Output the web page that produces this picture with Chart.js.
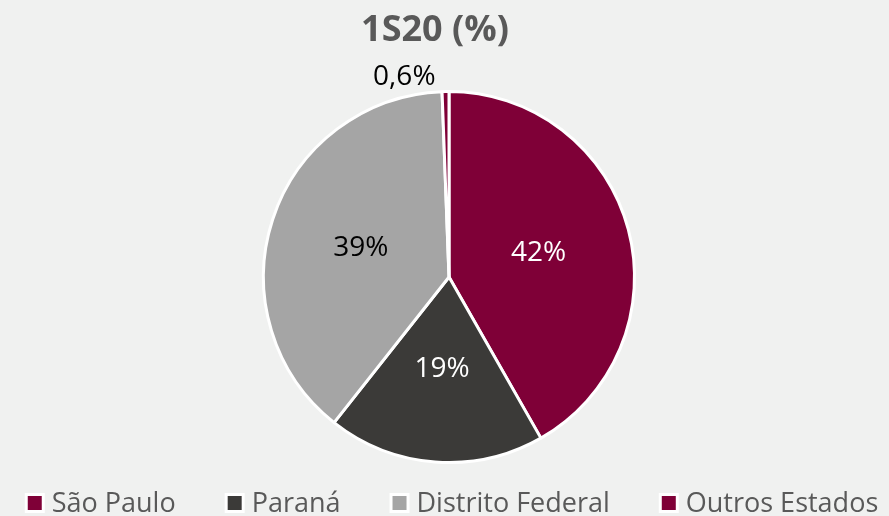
<!DOCTYPE html>
<html>
<head>
<meta charset="utf-8">
<script src="https://cdn.jsdelivr.net/npm/chart.js@4.4.1/dist/chart.umd.min.js"></script>
<style>
  html, body { margin: 0; padding: 0; background: #f0f1f0; }
  #wrap { width: 889px; height: 516px; }
</style>
</head>
<body>
<div id="wrap"><canvas id="c"></canvas></div>
<script>
const labels = ['São Paulo', 'Paraná', 'Distrito Federal', 'Outros Estados'];
const values = [42, 19, 39, 0.6];
const valueText = ['42%', '19%', '39%', '0,6%'];
const colors = ['#7f0037', '#3b3a38', '#a5a5a5', '#7f0037'];
const labelColors = ['#ffffff', '#ffffff', '#000000', '#000000'];
const title = '1S20 (%)';

const BG = '#f0f1f0', TXT = '#595959';
const FONT = '"Open Sans", "Noto Sans", sans-serif';

// title + slice labels + legend, drawn excel-style
const decor = {
    id: 'decor',
    beforeDraw(chart) {
        const { ctx, width, height } = chart;
        ctx.save();
        ctx.fillStyle = BG;
        ctx.fillRect(0, 0, width, height);
        ctx.restore();
    },
    afterDraw(chart) {
        const { ctx } = chart;
        ctx.save();
        ctx.fillStyle = TXT;
        ctx.font = 'bold 36px ' + FONT;
        ctx.textAlign = 'center';
        ctx.textBaseline = 'alphabetic';
        ctx.fillText(title, 435, 41);

        const arcs = chart.getDatasetMeta(0).data;
        ctx.font = '28px ' + FONT;
        arcs.forEach((arc, i) => {
            ctx.fillStyle = labelColors[i];
            if (values[i] < 3) {
                const mid = (arc.startAngle + arc.endAngle) / 2;
                const ox = arc.x + Math.cos(mid) * arc.outerRadius;
                const oy = arc.y + Math.sin(mid) * arc.outerRadius;
                ctx.textAlign = 'right';
                ctx.textBaseline = 'alphabetic';
                ctx.fillText(valueText[i], ox - 10, oy - 7);
            } else {
                const p = arc.tooltipPosition();
                ctx.textAlign = 'center';
                ctx.textBaseline = 'middle';
                ctx.fillText(valueText[i], p.x, p.y);
            }
        });

        // legend
        ctx.font = '27px ' + FONT;
        const box = 20, gapTxt = 7, gapItem = 49;
        const widths = labels.map(l => ctx.measureText(l).width);
        const total = widths.reduce((s, w) => s + box + gapTxt + w, 0) + gapItem * (labels.length - 1);
        let x = 451.5 - total / 2;
        const cy = 503;
        ctx.textAlign = 'left';
        ctx.textBaseline = 'middle';
        labels.forEach((l, i) => {
            ctx.fillStyle = '#ffffff';
            ctx.fillRect(x, cy - box / 2, box, box);
            ctx.fillStyle = colors[i];
            ctx.fillRect(x + 3, cy - box / 2 + 3, box - 6, box - 6);
            ctx.fillStyle = TXT;
            ctx.fillText(l, x + box + gapTxt, cy + 1);
            x += box + gapTxt + widths[i] + gapItem;
        });
        ctx.restore();
    }
};

new Chart(document.getElementById('c'), {
    type: 'pie',
    data: {
        labels,
        datasets: [{ data: values, backgroundColor: colors, borderColor: '#ffffff', borderWidth: 3 }]
    },
    options: {
        responsive: true,
        maintainAspectRatio: false,
        animation: false,
        layout: { padding: { top: 90, bottom: 52, left: 9, right: 0 } },
        plugins: { legend: { display: false }, tooltip: { enabled: false }, title: { display: false } }
    },
    plugins: [decor]
});
</script>
</body>
</html>
